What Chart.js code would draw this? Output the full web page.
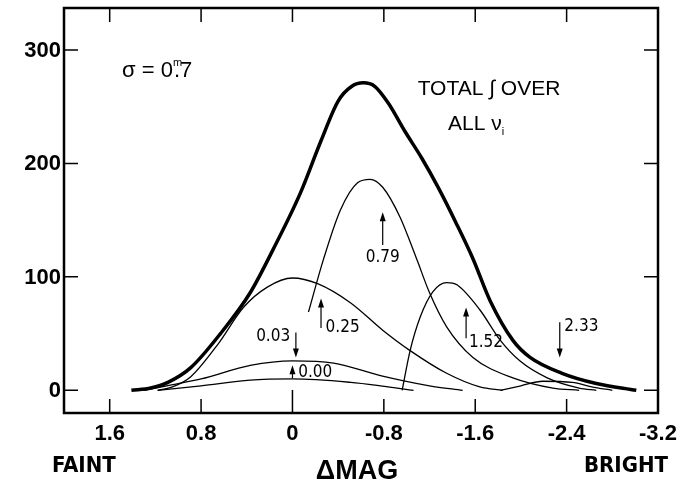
<!DOCTYPE html>
<html>
<head>
<meta charset="utf-8">
<script src="https://cdn.jsdelivr.net/npm/chart.js@4"></script>
<style>
  html, body { margin: 0; padding: 0; background: #fff; }
  #wrap { width: 686px; height: 486px; }
</style>
</head>
<body>
<div id="wrap"><canvas id="magChart" width="686" height="486"></canvas></div>
<script>
// axis ticks
const xTicks = [1.6, 0.8, 0, -0.8, -1.6, -2.4, -3.2];
const xTickLabels = ['1.6', '0.8', '0', '-0.8', '-1.6', '-2.4', '-3.2'];
const yTicks = [0, 100, 200, 300];
const yTickLabels = ['0', '100', '200', '300'];

// curves (x = delta mag, y = counts)
const totalX = [1.41, 1.24, 1.09, 0.89, 0.63, 0.37, 0.17, -0.07, -0.25, -0.4, -0.52, -0.62, -0.72, -0.84, -0.98, -1.13, -1.28, -1.43, -1.58, -1.73, -1.93, -2.08, -2.36, -2.66, -3.01];
const totalY = [0, 2, 7, 20, 50, 86, 124, 174, 220, 255, 268, 271, 268, 253, 229, 205, 178, 148, 116, 79, 44, 29, 15, 6, 0];

const c025X = [1.18, 1.05, 0.89, 0.65, 0.43, 0.22, 0.0, -0.22, -0.51, -0.79, -1.03, -1.35, -1.64, -1.84];
const c025Y = [0, 3, 12, 41, 73, 91, 99, 94, 77, 53, 35, 15, 3, 0];

const c079X = [-0.14, -0.27, -0.42, -0.57, -0.68, -0.79, -0.94, -1.09, -1.20, -1.35, -1.58, -1.93, -2.28, -2.51];
const c079Y = [69, 115, 159, 183, 186, 179, 153, 115, 86, 56, 29, 11, 2, 0];

const c152X = [-0.96, -1.03, -1.12, -1.23, -1.35, -1.44, -1.64, -1.82, -1.99, -2.23, -2.51, -2.66];
const c152Y = [0, 35, 65, 87, 95, 93, 71, 44, 26, 11, 2, 0];

const c233X = [-1.82, -2.0, -2.19, -2.45, -2.62, -2.8];
const c233Y = [0, 4, 8, 7, 3, 0];

const c003X = [1.30, 1.1, 0.80, 0.37, 0.0, -0.36, -0.77, -1.2, -1.49];
const c003Y = [0, 4, 10, 22, 26, 24, 13, 4, 0];

const c000X = [1.18, 0.8, 0.37, 0.0, -0.51, -0.77, -1.06];
const c000Y = [0, 4, 9, 10, 7, 4, 0];

// arrow markers: x, arrow tip y, tail y, label
const arrowX = [-0.79, -0.25, -0.03, 0.0, -1.52, -2.34];
const arrowTip = [157, 81, 29, 22, 73, 29];
const arrowTail = [128, 55, 51, 10.6, 46, 60];
const arrowLabels = ['0.79', '0.25', '0.03', '0.00', '1.52', '2.33'];

const toPts = (xs, ys) => xs.map((x, i) => ({ x: x, y: ys[i] }));

const narrow = '"Liberation Sans Narrow", "DejaVu Sans Condensed", sans-serif';
const sans = '"Liberation Sans", Arial, sans-serif';

const framePlugin = {
  id: 'frame',
  afterDraw(chart) {
    const { ctx, chartArea: a, scales: { x, y } } = chart;
    ctx.save();
    ctx.strokeStyle = '#000';
    ctx.fillStyle = '#000';

    // box
    ctx.lineWidth = 2.5;
    ctx.strokeRect(a.left, a.top, a.right - a.left, a.bottom - a.top);

    // ticks pointing inward on all four sides
    ctx.lineWidth = 1.5;
    const tl = 14;
    xTicks.forEach(v => {
      const px = x.getPixelForValue(v);
      const len = v === 0 ? 23 : tl;
      ctx.beginPath();
      ctx.moveTo(px, a.bottom); ctx.lineTo(px, a.bottom - len);
      ctx.moveTo(px, a.top); ctx.lineTo(px, a.top + tl);
      ctx.stroke();
    });
    yTicks.forEach(v => {
      const py = y.getPixelForValue(v);
      ctx.beginPath();
      ctx.moveTo(a.left, py); ctx.lineTo(a.left + tl, py);
      ctx.moveTo(a.right, py); ctx.lineTo(a.right - tl, py);
      ctx.stroke();
    });

    // tick labels
    ctx.font = 'bold 22px ' + sans;
    ctx.textAlign = 'center';
    ctx.textBaseline = 'middle';
    xTicks.forEach((v, i) => ctx.fillText(xTickLabels[i], x.getPixelForValue(v), 434));
    ctx.textAlign = 'right';
    yTicks.forEach((v, i) => ctx.fillText(yTickLabels[i], 61, y.getPixelForValue(v) + 1));

    // axis titles
    ctx.font = 'bold 22px ' + narrow;
    ctx.textAlign = 'left';
    ctx.fillText('FAINT', 52, 466);
    ctx.textAlign = 'right';
    ctx.fillText('BRIGHT', 668, 466);
    ctx.font = 'bold 27px ' + sans;
    ctx.textAlign = 'center';
    ctx.fillText('\u0394MAG', 357, 472);

    // sigma note
    ctx.font = '22px ' + sans;
    ctx.textAlign = 'left';
    let sx = 122;
    ctx.fillText('\u03c3 = 0', sx, 71);
    sx += ctx.measureText('\u03c3 = 0').width;
    ctx.font = '11px ' + sans;
    ctx.fillText('m', sx, 63);
    ctx.font = '22px ' + sans;
    ctx.fillText('.7', sx + 1, 71);

    // total label
    ctx.font = '21px ' + sans;
    ctx.textAlign = 'center';
    ctx.fillText('TOTAL \u222b OVER', 489, 89);
    ctx.textAlign = 'left';
    const allX = 448;
    ctx.fillText('ALL \u03bd', allX, 124);
    const subX = allX + ctx.measureText('ALL \u03bd').width;
    ctx.font = '11px ' + sans;
    ctx.fillText('i', subX, 132);

    // arrows + labels
    ctx.lineWidth = 1.2;
    arrowX.forEach((v, i) => {
      const px = x.getPixelForValue(v);
      const tip = y.getPixelForValue(arrowTip[i]);
      const tail = y.getPixelForValue(arrowTail[i]);
      const dir = tip < tail ? 1 : -1;
      ctx.beginPath();
      ctx.moveTo(px, tail); ctx.lineTo(px, tip + dir * 6);
      ctx.stroke();
      ctx.beginPath();
      ctx.moveTo(px, tip);
      ctx.lineTo(px - 3, tip + dir * 9);
      ctx.lineTo(px + 3, tip + dir * 9);
      ctx.closePath();
      ctx.fill();
    });
    ctx.font = '17px ' + narrow;
    ctx.textBaseline = 'middle';
    ctx.textAlign = 'center';
    ctx.fillText(arrowLabels[0], x.getPixelForValue(-0.79), y.getPixelForValue(117));
    ctx.textAlign = 'left';
    ctx.fillText(arrowLabels[1], x.getPixelForValue(-0.29), y.getPixelForValue(55));
    ctx.textAlign = 'right';
    ctx.fillText(arrowLabels[2], x.getPixelForValue(0.02), y.getPixelForValue(47));
    ctx.textAlign = 'left';
    ctx.fillText(arrowLabels[3], x.getPixelForValue(-0.05), y.getPixelForValue(16));
    ctx.fillText(arrowLabels[4], x.getPixelForValue(-1.545), y.getPixelForValue(42));
    ctx.fillText(arrowLabels[5], x.getPixelForValue(-2.38), y.getPixelForValue(56));
    ctx.restore();
  }
};

const thin = { borderColor: '#000', borderWidth: 1.3, pointRadius: 0, fill: false, cubicInterpolationMode: 'monotone' };

new Chart(document.getElementById('magChart').getContext('2d'), {
  type: 'line',
  data: {
    datasets: [
      Object.assign({}, thin, { label: 'Total', data: toPts(totalX, totalY), borderWidth: 3.5 }),
      Object.assign({}, thin, { label: '0.25', data: toPts(c025X, c025Y) }),
      Object.assign({}, thin, { label: '0.79', data: toPts(c079X, c079Y) }),
      Object.assign({}, thin, { label: '1.52', data: toPts(c152X, c152Y) }),
      Object.assign({}, thin, { label: '2.33', data: toPts(c233X, c233Y) }),
      Object.assign({}, thin, { label: '0.03', data: toPts(c003X, c003Y) }),
      Object.assign({}, thin, { label: '0.00', data: toPts(c000X, c000Y) })
    ]
  },
  options: {
    responsive: false,
    animation: false,
    layout: { padding: { left: 64, top: 8, right: 28, bottom: 73 } },
    scales: {
      x: { type: 'linear', reverse: true, min: -3.2, max: 2.0, display: false },
      y: { type: 'linear', min: -20, max: 337, display: false }
    },
    plugins: { legend: { display: false }, tooltip: { enabled: false } }
  },
  plugins: [framePlugin]
});
</script>
</body>
</html>
